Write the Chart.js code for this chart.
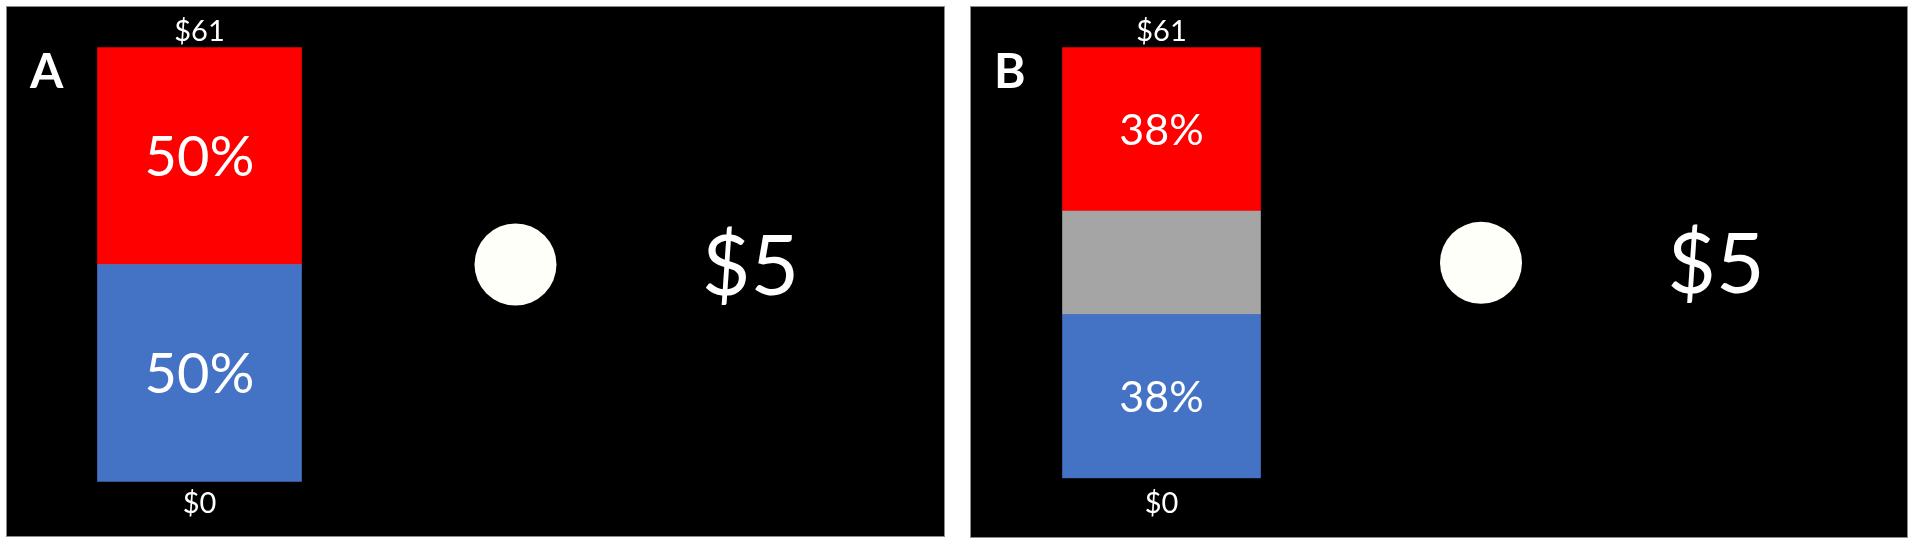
<!DOCTYPE html>
<html>
<head>
<meta charset="utf-8">
<script src="https://cdn.jsdelivr.net/npm/chart.js@4.4.1/dist/chart.umd.min.js"></script>
<style>
  html, body { margin: 0; padding: 0; background: #fff; }
  body { width: 1914px; height: 544px; position: relative; overflow: hidden; }
  .panel { position: absolute; background: #000; outline: 1px solid #8c8c8c; }
  .panel canvas { display: block; }
  #panelA { left: 7px; top: 7px; width: 937px; height: 529px; }
  #panelB { left: 971px; top: 7px; width: 936px; height: 530px; }
</style>
</head>
<body>
<div class="panel" id="panelA"><canvas id="chartA" width="937" height="529"></canvas></div>
<div class="panel" id="panelB"><canvas id="chartB" width="936" height="530"></canvas></div>
<script>
// one entry per panel: A, B
const categories = ['Lottery', 'Sure amount'];
const panelNames = ['A', 'B'];
const boundLabels = ['$0', '$61'];   // bottom and top outcome of the lottery bar
const shareBlue = [50, 38];          // % chance of $0
const shareGrey = [0, 24];           // % left unknown
const shareRed = [50, 38];           // % chance of $61
const sureAmount = [5, 5];           // the sure option, in $

const FONT = 'Lato, "Open Sans", sans-serif';
const Y_MAX = 100;

// text on top of the chart: panel letter, % inside the bar, $ ends, sure amount
const panelText = {
    id: 'panelText',
    afterDatasetsDraw(chart, args, opts) {
        const ctx = chart.ctx;
        ctx.save();
        ctx.fillStyle = '#fff';

        // panel letter
        ctx.textAlign = 'left';
        ctx.textBaseline = 'alphabetic';
        ctx.font = `bold ${opts.letterSize}px ${FONT}`;
        ctx.fillText(opts.letter, 23, 81);

        // percentages in the coloured parts
        ctx.textAlign = 'center';
        ctx.font = `${opts.pctSize}px ${FONT}`;
        chart.data.datasets.forEach((ds, i) => {
            if (!ds.showPct) return;
            const bar = chart.getDatasetMeta(i).data[0];
            const mid = (bar.y + bar.base) / 2;
            ctx.fillText(ds.data[0] + '%', bar.x, mid + opts.pctSize * 0.36);
        });

        // $0 under the bar, $61 over it
        const bar = chart.getDatasetMeta(0).data[0];
        const y = chart.scales.y;
        ctx.font = `${opts.endSize}px ${FONT}`;
        ctx.fillText(boundLabels[0], bar.x, y.getPixelForValue(0) + opts.bottomGap);
        ctx.fillText(boundLabels[1], bar.x, y.getPixelForValue(Y_MAX) - opts.topGap);

        // sure amount next to the circle
        const dot = chart.getDatasetMeta(3).data[1];
        ctx.font = `${opts.sureSize}px ${FONT}`;
        ctx.fillText('$' + opts.sure, dot.x + 235, dot.y + opts.sureSize * 0.36);
        ctx.restore();
    }
};

function makePanel(canvasId, p, pad, barWidth, pctSize, bottomGap) {
    return new Chart(document.getElementById(canvasId), {
        type: 'bar',
        data: {
            labels: categories,
            datasets: [
                { label: boundLabels[0], data: [shareBlue[p], null], backgroundColor: '#4472c4', stack: 'lottery', showPct: true },
                { label: 'unknown', data: [shareGrey[p], null], backgroundColor: '#a5a5a5', stack: 'lottery' },
                { label: boundLabels[1], data: [shareRed[p], null], backgroundColor: '#ff0000', stack: 'lottery', showPct: true },
                {
                    type: 'line', label: 'sure', data: [null, Y_MAX / 2], stack: 'sure',
                    showLine: false, pointRadius: 41, pointBorderWidth: 0,
                    pointBackgroundColor: '#fffffa'
                }
            ]
        },
        options: {
            responsive: false,
            animation: false,
            events: [],
            layout: { padding: pad, autoPadding: false },
            datasets: { bar: { barThickness: barWidth, borderWidth: 0 } },
            plugins: {
                legend: { display: false },
                tooltip: { enabled: false },
                panelText: {
                    letter: panelNames[p], letterSize: 48,
                    pctSize: pctSize, endSize: 29, sureSize: 84,
                    topGap: 6, bottomGap: bottomGap, sure: sureAmount[p]
                }
            },
            scales: {
                x: { display: false, stacked: true },
                y: { display: false, stacked: true, min: 0, max: Y_MAX }
            }
        },
        plugins: [panelText]
    });
}

makePanel('chartA', 0, { left: 34.5, right: 270.5, top: 40.3, bottom: 54.3 }, 204, 56, 31);
makePanel('chartB', 1, { left: 30.75, right: 266.25, top: 40.3, bottom: 58.7 }, 198, 43, 35);
</script>
</body>
</html>
